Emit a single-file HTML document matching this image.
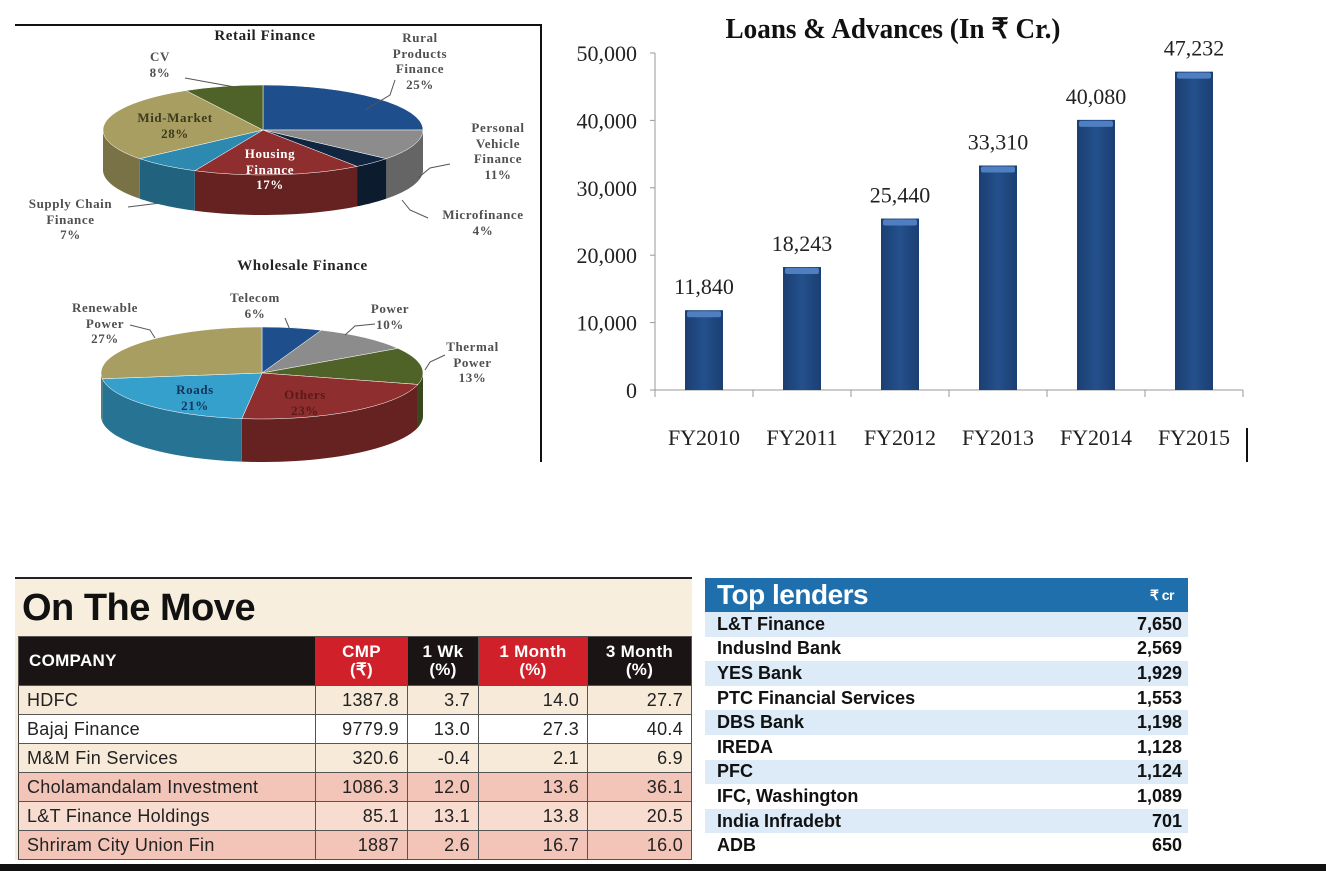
<!DOCTYPE html>
<html><head><meta charset="utf-8">
<style>
body{margin:0;width:1328px;height:871px;background:#fff;position:relative;overflow:hidden;font-family:"Liberation Sans",sans-serif}
.abs{position:absolute}
.pl{font-family:"Liberation Serif",serif;font-weight:bold;font-size:13px;letter-spacing:0.6px;color:#505050;text-align:center;line-height:15.5px;position:absolute;white-space:nowrap}
#move{left:15px;top:577px;width:677px;height:281px;background:#f8eedd;border-top:2px solid #222}
#move table{position:absolute;left:3px;top:57px;border-collapse:collapse;font-family:"Liberation Sans Narrow","Liberation Sans",sans-serif;font-size:18px;color:#222;letter-spacing:0.3px}
#move td{height:28px;border:1px solid #555;border-left:1px solid #444;padding:0 8px;text-align:right}
#move td:first-child{text-align:left;padding-left:8px}
#move th{height:46px;color:#fff;font-size:17px;line-height:18px;font-weight:bold;border:1px solid #555}
#lend{left:705px;top:578px;width:483px}
#lend .row{height:24.6px;display:flex;justify-content:space-between;align-items:center;font-weight:bold;font-size:18px;color:#111;padding:0 6px 0 12px}
</style></head><body>
<div class="abs" style="left:15px;top:24px;width:526px;height:2px;background:#111"></div>
<div class="abs" style="left:540px;top:24px;width:2px;height:438px;background:#111"></div>
<div class="abs" style="left:1246px;top:428px;width:2px;height:34px;background:#111"></div>
<div class="abs" style="left:0;top:864px;width:1326px;height:7px;background:#111"></div>

<svg class="abs" style="left:0;top:0" width="545" height="470" id="pies"></svg>
<div class="pl" style="left:185px;top:29px;width:160px;font-size:15px;color:#222">Retail Finance</div>
<div class="pl" style="left:130px;top:49px;width:60px">CV<br>8%</div>
<div class="pl" style="left:375px;top:30px;width:90px">Rural<br>Products<br>Finance<br>25%</div>
<div class="pl" style="left:448px;top:120px;width:100px">Personal<br>Vehicle<br>Finance<br>11%</div>
<div class="pl" style="left:424px;top:207px;width:118px">Microfinance<br>4%</div>
<div class="pl" style="left:8px;top:196px;width:125px">Supply Chain<br>Finance<br>7%</div>
<div class="pl" style="left:120px;top:110px;width:110px;color:#3a3a20">Mid-Market<br>28%</div>
<div class="pl" style="left:222px;top:146px;width:96px;color:#fff">Housing<br>Finance<br>17%</div>
<div class="pl" style="left:195px;top:259px;width:215px;font-size:15px;color:#222">Wholesale Finance</div>
<div class="pl" style="left:215px;top:290px;width:80px">Telecom<br>6%</div>
<div class="pl" style="left:355px;top:301px;width:70px">Power<br>10%</div>
<div class="pl" style="left:435px;top:339px;width:75px">Thermal<br>Power<br>13%</div>
<div class="pl" style="left:50px;top:300px;width:110px">Renewable<br>Power<br>27%</div>
<div class="pl" style="left:160px;top:382px;width:70px;color:#12345a">Roads<br>21%</div>
<div class="pl" style="left:270px;top:387px;width:70px;color:#5a1a1a">Others<br>23%</div>

<svg class="abs" style="left:560px;top:0" width="700" height="470" id="bars"></svg>

<div id="move" class="abs">
<div style="position:absolute;left:7px;top:8px;font-size:38px;font-weight:bold;color:#111;letter-spacing:-0.5px">On The Move</div>
<table>
<tr><th style="background:#1a1414;width:285px;text-align:left;padding-left:10px">COMPANY</th><th style="background:#d0202a;width:89px">CMP<br>(₹)</th><th style="background:#1a1414;width:68px">1 Wk<br>(%)</th><th style="background:#d0202a;width:106px">1 Month<br>(%)</th><th style="background:#1a1414;width:101px">3 Month<br>(%)</th></tr>
<tr style="background:#f7ead8"><td>HDFC</td><td>1387.8</td><td>3.7</td><td>14.0</td><td>27.7</td></tr>
<tr style="background:#fff"><td>Bajaj Finance</td><td>9779.9</td><td>13.0</td><td>27.3</td><td>40.4</td></tr>
<tr style="background:#f7ead8"><td>M&amp;M Fin Services</td><td>320.6</td><td>-0.4</td><td>2.1</td><td>6.9</td></tr>
<tr style="background:#f2c5b8"><td>Cholamandalam Investment</td><td>1086.3</td><td>12.0</td><td>13.6</td><td>36.1</td></tr>
<tr style="background:#f7dccf"><td>L&amp;T Finance Holdings</td><td>85.1</td><td>13.1</td><td>13.8</td><td>20.5</td></tr>
<tr style="background:#f2c5b8"><td>Shriram City Union Fin</td><td>1887</td><td>2.6</td><td>16.7</td><td>16.0</td></tr>
</table></div>

<div id="lend" class="abs">
<div style="height:34px;background:#1f6fad;color:#fff;display:flex;justify-content:space-between;align-items:center;padding:0 14px 0 12px;font-weight:900;font-size:28px;letter-spacing:-0.5px">Top lenders<span style="font-size:14px">₹ cr</span></div>
<div id="lrows"></div>
</div>

<script>
const retailLabels=["Rural Products Finance","Personal Vehicle Finance","Microfinance","Housing Finance","Supply Chain Finance","Mid-Market","CV"];
const retailValues=[25,11,4,17,7,28,8];
const retailColors=["#1f4e8c","#8c8c8c","#10253f","#8e2e2e","#2e89b0","#a99e62","#4f6228"];
const wholesaleLabels=["Telecom","Power","Thermal Power","Others","Roads","Renewable Power"];
const wholesaleValues=[6,10,13,23,21,27];
const wholesaleColors=["#1f4e8c","#8c8c8c","#4f6228","#8e2e2e","#35a0cc","#a99e62"];
const NS="http://www.w3.org/2000/svg";
function shade(c,f){const n=parseInt(c.slice(1),16);let r=n>>16,g=(n>>8)&255,b=n&255;return `rgb(${Math.round(r*f)},${Math.round(g*f)},${Math.round(b*f)})`;}
function pie(svg,cx,cy,rx,ry,d,vals,cols,name){
  const tot=vals.reduce((a,b)=>a+b,0);let a=-Math.PI/2;const seg=[];
  vals.forEach((v,i)=>{const a2=a+v/tot*2*Math.PI;seg.push([a,a2,i]);a=a2;});
  const P=(t,dy)=>[cx+rx*Math.cos(t),cy+ry*Math.sin(t)+dy];
  seg.forEach(([s,e,i])=>{
    for(const off of [0,2*Math.PI]){
      const s1=Math.max(s,off),e1=Math.min(e,off+Math.PI);
      if(e1<=s1)continue;
      let pts=[];const n=30;
      for(let k=0;k<=n;k++){const t=s1+(e1-s1)*k/n;pts.push(P(t,0));}
      for(let k=n;k>=0;k--){const t=s1+(e1-s1)*k/n;pts.push(P(t,d));}
      const p=document.createElementNS(NS,'polygon');
      p.setAttribute('points',pts.map(q=>q.join(',')).join(' '));
      p.setAttribute('fill',shade(cols[i],0.72));
      
      
      svg.appendChild(p);
    }
  });
  seg.forEach(([s,e,i])=>{
    const p1=P(s,0),p2=P(e,0);const large=(e-s)>Math.PI?1:0;
    const p=document.createElementNS(NS,'path');
    p.setAttribute('d',`M${cx},${cy}L${p1}A${rx},${ry} 0 ${large} 1 ${p2}Z`);
    p.setAttribute('fill',cols[i]);p.setAttribute('stroke','#fff');p.setAttribute('stroke-width','0.5');
    
    
    svg.appendChild(p);
  });
}
const ps=document.getElementById('pies');
pie(ps,263,130,160,45,40,retailValues,retailColors,'retail');
pie(ps,262,373,161,46,43,wholesaleValues,wholesaleColors,'wholesale');
[["M185,78 L240,88"],["M395,80 L390,95 L365,110"],["M450,164 L430,168 L418,178"],["M428,218 L410,210 L402,200"],["M128,207 L160,203"],["M285,318 L290,330"],["M375,324 L355,326 L345,335"],["M445,355 L430,362 L425,370"],["M130,325 L150,330 L155,338"]].forEach((d,i)=>{
  const p=document.createElementNS(NS,'path');p.setAttribute('d',d[0]);p.setAttribute('stroke','#555');p.setAttribute('fill','none');
  
  
  ps.appendChild(p);});

const categories=["FY2010","FY2011","FY2012","FY2013","FY2014","FY2015"];
const loanValues=[11840,18243,25440,33310,40080,47232];
const valueLabels=["11,840","18,243","25,440","33,310","40,080","47,232"];
const yTicks=[0,10000,20000,30000,40000,50000];
const yTickLabels=["0","10,000","20,000","30,000","40,000","50,000"];
const bs=document.getElementById('bars');
const X0=95,X1=683,Y0=390,Y1=53,YMAX=50000;
const band=(X1-X0)/categories.length;
const y=v=>Y0-(v/YMAX)*(Y0-Y1);
const xc=i=>X0+band*(i+0.5);
function el(tag,attrs,name,txt){const e=document.createElementNS(NS,tag);for(const k in attrs)e.setAttribute(k,attrs[k]);if(txt!==undefined)e.textContent=txt;bs.appendChild(e);return e;}
bs.innerHTML='<defs><linearGradient id="bg" x1="0" x2="1"><stop offset="0" stop-color="#1b3f72"/><stop offset="0.5" stop-color="#24508c"/><stop offset="1" stop-color="#1b3f72"/></linearGradient></defs>';
el('text',{x:333,y:38,'text-anchor':'middle','font-family':'Liberation Serif, serif','font-size':28,'font-weight':'bold',fill:'#111',textLength:335,lengthAdjust:'spacingAndGlyphs'},'chart-title','Loans & Advances (In ₹ Cr.)');
el('line',{x1:X0,y1:Y1,x2:X0,y2:Y0,stroke:'#999'},'y-axis');
el('line',{x1:X0-5,y1:Y0,x2:X1,y2:Y0,stroke:'#999'},'x-axis');
yTicks.forEach((v,i)=>{el('line',{x1:X0-5,y1:y(v),x2:X0,y2:y(v),stroke:'#999'},'y-tick-'+i);
 el('text',{x:X0-18,y:y(v)+8,'text-anchor':'end','font-family':'Liberation Serif, serif','font-size':22,fill:'#222'},'y-tick-label',yTickLabels[i]);});
for(let i=0;i<=categories.length;i++)el('line',{x1:X0+band*i,y1:Y0,x2:X0+band*i,y2:Y0+7,stroke:'#999'},'x-tick-'+i);
categories.forEach((c,i)=>{
 el('rect',{x:xc(i)-19,y:y(loanValues[i]),width:38,height:Y0-y(loanValues[i]),fill:'url(#bg)'},'bar-'+c);
 el('rect',{x:xc(i)-17,y:y(loanValues[i])+1,width:34,height:6,fill:'#4f7fc0',rx:2},'bar-cap-'+c);
 el('text',{x:xc(i),y:y(loanValues[i])-16,'text-anchor':'middle','font-family':'Liberation Serif, serif','font-size':22,fill:'#222'},'value-label-'+c,valueLabels[i]);
 el('text',{x:xc(i),y:Y0+55,'text-anchor':'middle','font-family':'Liberation Serif, serif','font-size':22,fill:'#222'},'x-tick-label-'+c,c);
});

const lenders=["L&T Finance","IndusInd Bank","YES Bank","PTC Financial Services","DBS Bank","IREDA","PFC","IFC, Washington","India Infradebt","ADB"];
const lenderValues=["7,650","2,569","1,929","1,553","1,198","1,128","1,124","1,089","701","650"];
const lr=document.getElementById('lrows');
lenders.forEach((n,i)=>{const d=document.createElement('div');d.className='row';d.style.background=i%2?'#fff':'#dcebf7';
 
 
 const a=document.createElement('span');a.textContent=n;const b=document.createElement('span');b.textContent=lenderValues[i];
 d.appendChild(a);d.appendChild(b);lr.appendChild(d);});
</script>
</body></html>
